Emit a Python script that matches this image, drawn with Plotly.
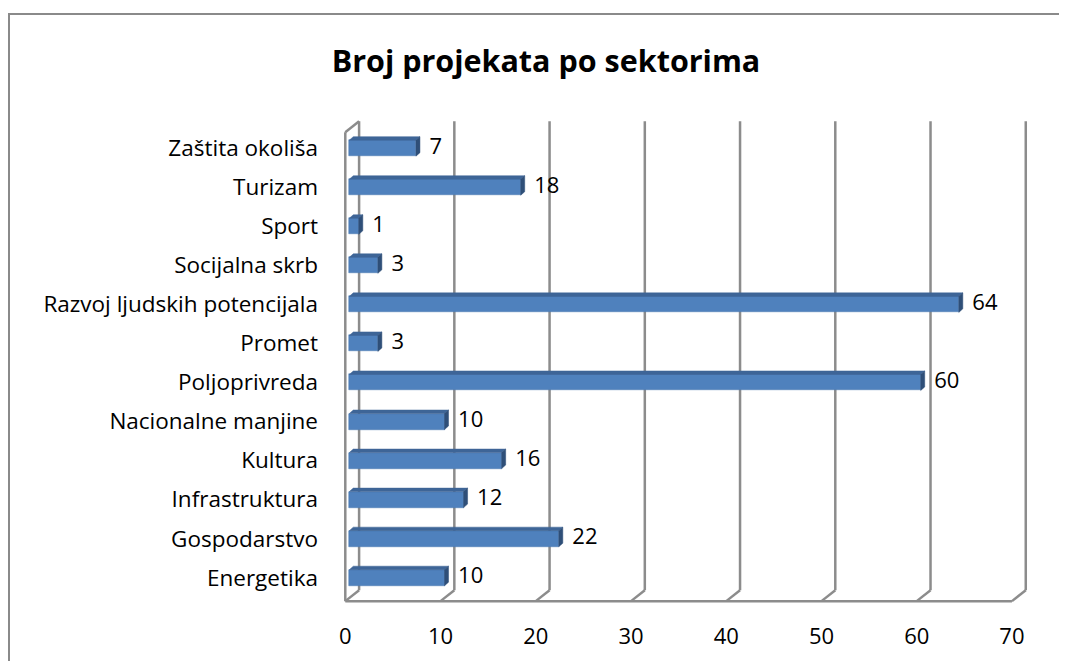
import plotly.graph_objects as go

# data
sectors = ["Energetika", "Gospodarstvo", "Infrastruktura", "Kultura", "Nacionalne manjine",
           "Poljoprivreda", "Promet", "Razvoj ljudskih potencijala", "Socijalna skrb",
           "Sport", "Turizam", "Zaštita okoliša"]
projects = [10, 22, 12, 16, 10, 60, 3, 64, 3, 1, 18, 7]
x_ticks = [0, 10, 20, 30, 40, 50, 60, 70]

title = "Broj projekata po sektorima"
FONT = "Open Sans, Lato, sans-serif"

# 3d look (axis units)
BAR_BASE = 0.42      # bars sit a little behind the front plane
BAR_W = 0.41
DX, DY = 0.42, 0.09  # bar depth
BACK_DX = 1.45       # back wall offset
FLOOR_F, FLOOR_B = -0.60, -0.32
TOP_F, TOP_B = 11.41, 11.69
GRID = "#8c8c8c"

# page has an 8px body margin, so figure px = page px - 8
W, H = 1059, 653
L, R, T, B = 323, 36, 107, 54
xr = [-1.5, 72.0]
yr = [-0.75, 11.85]

fig = go.Figure()

# walls / floor lines
shapes = []
line = dict(color=GRID, width=2.5)
for k in x_ticks:
    shapes.append(dict(type="line", xref="x", yref="y", x0=k + BACK_DX, x1=k + BACK_DX,
                       y0=FLOOR_B, y1=TOP_B, line=line, layer="below"))
    shapes.append(dict(type="line", xref="x", yref="y", x0=k, x1=k + BACK_DX,
                       y0=FLOOR_F, y1=FLOOR_B, line=line, layer="below"))
shapes.append(dict(type="line", xref="x", yref="y", x0=x_ticks[0], x1=x_ticks[-1],
                   y0=FLOOR_F, y1=FLOOR_F, line=line, layer="below"))
shapes.append(dict(type="line", xref="x", yref="y", x0=0, x1=0,
                   y0=FLOOR_F, y1=TOP_F, line=line, layer="below"))
shapes.append(dict(type="line", xref="x", yref="y", x0=0, x1=BACK_DX,
                   y0=TOP_F, y1=TOP_B, line=line, layer="below"))

# outer chart border (pixels -> paper)
pw, ph = W - L - R, H - T - B
def px(x): return (x - L) / pw
def py(y): return 1 - (y - T) / ph
shapes.append(dict(type="rect", xref="paper", yref="paper",
                   x0=px(1), x1=px(W + 20), y0=py(6), y1=py(H + 20),
                   line=dict(color="#8a8a8a", width=2), layer="below"))

# top and side faces of bars
top_x, top_y, side_x, side_y = [], [], [], []
for i, v in enumerate(projects):
    x0, x1 = BAR_BASE, BAR_BASE + v
    y_top = i + BAR_W / 2
    y_bot = i - BAR_W / 2
    top_x += [x0, x1, x1 + DX, x0 + DX, x0, None]
    top_y += [y_top, y_top, y_top + DY, y_top + DY, y_top, None]
    side_x += [x1, x1 + DX, x1 + DX, x1, x1, None]
    side_y += [y_bot, y_bot + DY, y_top + DY, y_top, y_bot, None]

fig.add_trace(go.Bar(y=list(range(len(sectors))), x=projects, base=BAR_BASE, orientation="h",
                     width=BAR_W, marker=dict(color="#4f81bd", line=dict(color="#4a7ab3", width=0.5)),
                     hoverinfo="skip", showlegend=False))
fig.add_trace(go.Scatter(x=top_x, y=top_y, fill="toself", mode="lines", fillcolor="#3e6597",
                         line=dict(color="#3e6597", width=0.5), hoverinfo="skip", showlegend=False))
fig.add_trace(go.Scatter(x=side_x, y=side_y, fill="toself", mode="lines", fillcolor="#2f4f78",
                         line=dict(color="#2f4f78", width=0.5), hoverinfo="skip", showlegend=False))

# data labels
fig.add_trace(go.Scatter(x=[BAR_BASE + v + DX + 1.0 for v in projects], y=list(range(len(sectors))),
                         mode="text", text=[str(v) for v in projects], textposition="middle right",
                         textfont=dict(family=FONT, size=22, color="black"),
                         hoverinfo="skip", showlegend=False, cliponaxis=False))

fig.update_layout(
    width=W, height=H,
    margin=dict(l=L, r=R, t=T, b=B),
    paper_bgcolor="white", plot_bgcolor="white",
    font=dict(family=FONT, size=22, color="black"),
    title=dict(text="<b>" + title + "</b>", x=px(538), xref="paper", xanchor="center",
               y=1 - 53 / H, yanchor="middle", font=dict(size=30.5, family=FONT)),
    shapes=shapes,
    bargap=0,
    xaxis=dict(range=xr, tickvals=x_ticks, ticktext=[str(t) for t in x_ticks],
               showgrid=False, zeroline=False, showline=False, ticks="",
               ticklabelstandoff=14, tickfont=dict(size=22)),
    yaxis=dict(range=yr, tickvals=list(range(len(sectors))), ticktext=sectors,
               showgrid=False, zeroline=False, showline=False, ticks="",
               ticklabelstandoff=12, tickfont=dict(size=22.5)),
)

fig.write_html("out.html")
